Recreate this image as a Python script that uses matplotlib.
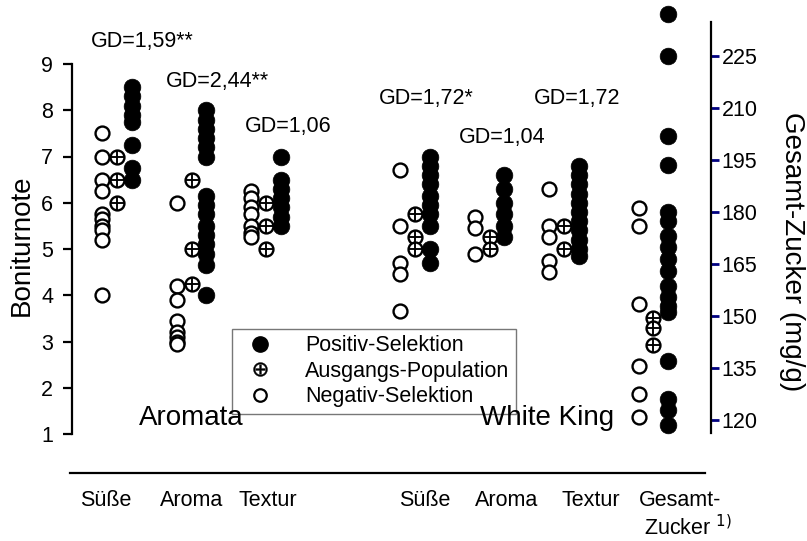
import matplotlib
matplotlib.use("Agg")
import matplotlib.pyplot as plt
from matplotlib.lines import Line2D
import matplotlib.transforms as mtransforms

plt.rcParams['font.family'] = ['Liberation Sans', 'DejaVu Sans']

# ---------------- data ----------------
# Aromata (Boniturnote)
aro_suesse_neg = [7.5, 7.0, 6.5, 6.25, 5.75, 5.65, 5.5, 5.4, 5.2, 4.0]
aro_suesse_ausg = [7.0, 6.5, 6.0]
aro_suesse_pos = [8.5, 8.3, 8.1, 7.9, 7.75, 7.25, 6.75, 6.5]
aro_aroma_neg = [6.0, 4.2, 3.9, 3.45, 3.2, 3.1, 3.0, 2.95]
aro_aroma_ausg = [6.5, 5.0, 4.25]
aro_aroma_pos = [8.0, 7.8, 7.6, 7.4, 7.2, 7.0, 6.15, 5.95, 5.75, 5.5, 5.3, 5.1, 4.9, 4.65, 4.0]
aro_textur_neg = [6.25, 6.1, 5.9, 5.75, 5.5, 5.35, 5.25]
aro_textur_ausg = [6.0, 5.5, 5.0]
aro_textur_pos = [7.0, 6.5, 6.3, 6.1, 5.9, 5.7, 5.5]
# White King (Boniturnote)
wk_suesse_neg = [6.7, 5.5, 4.7, 4.45, 3.65]
wk_suesse_ausg = [5.75, 5.25, 5.0]
wk_suesse_pos = [7.0, 6.8, 6.6, 6.4, 6.15, 5.95, 5.75, 5.5, 5.0, 4.7]
wk_aroma_neg = [5.7, 5.45, 4.9]
wk_aroma_ausg = [5.25, 5.0]
wk_aroma_pos = [6.6, 6.3, 6.0, 5.75, 5.5, 5.25]
wk_textur_neg = [6.3, 5.5, 5.25, 4.75, 4.5]
wk_textur_ausg = [5.5, 5.0]
wk_textur_pos = [6.8, 6.6, 6.4, 6.2, 6.0, 5.8, 5.6, 5.4, 5.2, 5.0, 4.85]
# White King Gesamt-Zucker (mg/g)
zucker_neg = [181, 176, 153.5, 135.5, 127.5, 121]
zucker_ausg = [149.5, 146.5, 141.5]
zucker_pos = [237, 225, 202, 193.5, 180, 177.5, 173, 170, 166.5, 163, 158.5,
              155.5, 153, 151, 137, 126, 123, 118.5]

category_positions = [0, 1, 2, 4, 5, 6]
boniture_groups = [
    (aro_suesse_neg, aro_suesse_ausg, aro_suesse_pos),
    (aro_aroma_neg, aro_aroma_ausg, aro_aroma_pos),
    (aro_textur_neg, aro_textur_ausg, aro_textur_pos),
    (wk_suesse_neg, wk_suesse_ausg, wk_suesse_pos),
    (wk_aroma_neg, wk_aroma_ausg, wk_aroma_pos),
    (wk_textur_neg, wk_textur_ausg, wk_textur_pos),
]
zucker_position = 7.2

gd_labels = ["GD=1,59**", "GD=2,44**", "GD=1,06", "GD=1,72*", "GD=1,04", "GD=1,72"]
category_labels = ["Süße", "Aroma", "Textur", "Süße", "Aroma", "Textur"]
left_ticks = [1, 2, 3, 4, 5, 6, 7, 8, 9]
right_ticks = [120, 135, 150, 165, 180, 195, 210, 225]
legend_labels = ["Positiv-Selektion", "Ausgangs-Population", "Negativ-Selektion"]

# ---------------- layout ----------------
W, H = 807, 541
fig = plt.figure(figsize=(W / 100, H / 100), dpi=100)
ax_l, ax_r, ax_t, ax_b = 72, 711, 10, 440
ax = fig.add_axes([ax_l / W, 1 - ax_b / H, (ax_r - ax_l) / W, (ax_b - ax_t) / H])
ax2 = ax.twinx()

FS = 15.5
off = 0.2
ms_open = 10
ms_fill = 12
mew = 1.7


def draw(axis, x, neg, ausg, pos):
    axis.plot([x - off] * len(neg), neg, linestyle='none', marker='o', ms=ms_open,
              mfc='white', mec='black', mew=mew, clip_on=False, zorder=3)
    axis.plot([x] * len(ausg), ausg, linestyle='none', marker='o', ms=ms_open,
              mfc='white', mec='black', mew=mew, clip_on=False, zorder=3)
    axis.plot([x] * len(ausg), ausg, linestyle='none', marker='+', ms=ms_open,
              mec='black', mew=mew * 0.8, clip_on=False, zorder=4)
    axis.plot([x + off] * len(pos), pos, linestyle='none', marker='o', ms=ms_fill,
              mfc='black', mec='black', mew=0.5, clip_on=False, zorder=5)


for xpos, (neg, ausg, pos) in zip(category_positions, boniture_groups):
    draw(ax, xpos, neg, ausg, pos)
draw(ax2, zucker_position, zucker_neg, zucker_ausg, zucker_pos)

# axis limits (pixel mapping of reference)
x0_pix, x_unit = 117, 74.5
ax.set_xlim((ax_l - x0_pix) / x_unit, (ax_r - x0_pix) / x_unit)
u_per_pix = 1 / 46.25
ax.set_ylim(9 - (ax_b - 64) * u_per_pix, 9 + (64 - ax_t) * u_per_pix)
v_per_pix = 1 / 3.47
ax2.set_ylim(225 - (ax_b - 55.7) * v_per_pix, 225 + (55.7 - ax_t) * v_per_pix)

for s in ['top', 'right', 'bottom']:
    ax.spines[s].set_visible(False)
for s in ['top', 'left', 'bottom']:
    ax2.spines[s].set_visible(False)
ax.spines['left'].set_bounds(1, 9)
ax.spines['left'].set_linewidth(1.6)
ax2.spines['right'].set_bounds(225 - (433 - 55.7) * v_per_pix, 225 + (55.7 - 21.7) * v_per_pix)
ax2.spines['right'].set_linewidth(1.6)

ax.set_xticks([])
ax.set_yticks(left_ticks)
ax.tick_params(axis='y', length=6.5, width=1.6, labelsize=FS, pad=7)
ax2.set_yticks(right_ticks)
ax2.tick_params(axis='y', length=6, width=2, color='#000080', labelcolor='black',
                labelsize=FS, pad=1.5)

# axis titles
fig.text(22 / W, 1 - 245 / H, "Boniturnote", rotation=90, ha='center', va='center', fontsize=20)
fig.text(792 / W, 1 - 252 / H, "Gesamt-Zucker (mg/g)", rotation=270, ha='center', va='center',
         fontsize=20)

# GD annotations
gd_x = [0.34, 1.35, 2.3, 4.15, 5.17, 6.18]
gd_y = [9.48, 8.63, 7.64, 8.26, 7.4, 8.26]
for gx, gy, t in zip(gd_x, gd_y, gd_labels):
    ax.text(gx, gy, t, ha='center', va='center', fontsize=FS)

# legend
h_pos = Line2D([], [], linestyle='none', marker='o', ms=11, mfc='black', mec='black')
h_ausg = Line2D([], [], linestyle='none', marker='$\\oplus$', ms=10, mfc='black', mec='black', mew=0.3)
h_neg = Line2D([], [], linestyle='none', marker='o', ms=9, mfc='white', mec='black', mew=1.6)
leg = ax.legend([h_pos, h_ausg, h_neg], legend_labels, loc='upper left',
                bbox_to_anchor=(232 / W, 1 - 329 / H), bbox_transform=fig.transFigure,
                fontsize=FS, frameon=True, fancybox=False, framealpha=1,
                edgecolor='#777777', borderaxespad=0, borderpad=0.3, labelspacing=0.2,
                handletextpad=1.1, handlelength=2.0)
leg.get_frame().set_linewidth(1.0)
leg.set_zorder(6)

# group names (drawn above legend)
ax.text(1.0, 1.0 - (418 - 434) * u_per_pix, "Aromata", ha='center', va='center', fontsize=20,
        zorder=8)
ax.text(5.77, 1.0 - (418 - 434) * u_per_pix, "White King", ha='center', va='center', fontsize=20,
        zorder=8)

# separator line
fig.add_artist(Line2D([70 / W, 705 / W], [1 - 473 / H, 1 - 473 / H], color='black', lw=1.6))

# category labels under line
trans = mtransforms.blended_transform_factory(ax.transData, fig.transFigure)
lab_x = [-0.15, 1.0, 2.03, 4.13, 5.23, 6.36]
for lx, t in zip(lab_x, category_labels):
    ax.text(lx, 1 - 500 / H, t, transform=trans, ha='center', va='center', fontsize=FS)
ax.text(7.0, 1 - 500 / H, "Gesamt-", transform=trans, ha='left', va='center', fontsize=FS)
ax.text(7.07, 1 - 528 / H, "Zucker $^{1)}$", transform=trans, ha='left', va='center', fontsize=FS)

fig.savefig("out.png", dpi=100)
